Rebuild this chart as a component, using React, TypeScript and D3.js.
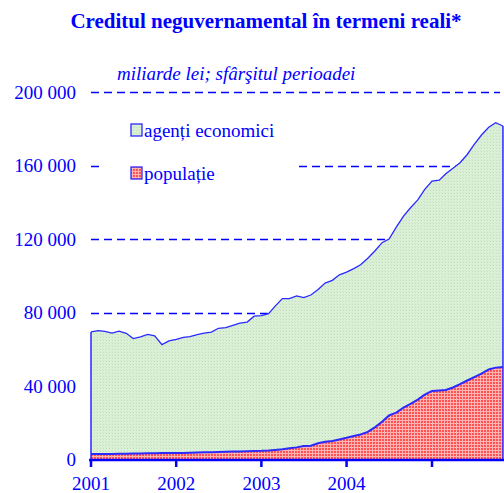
import React from "react";
import * as d3 from "d3";

const START_YEAR = 2001;
const START_MONTH = 0;

// agenți economici (miliarde lei), monthly from Jan 2001
const agenti = [
  66400, 67100, 66700, 65800, 66700, 65600, 62600, 63400, 64700, 63900, 59000, 60900,
  61800, 62900, 63200, 64200, 64900, 65300, 67300, 67600, 68700, 69800, 70300, 73400,
  73600, 74500, 78300, 82000, 81500, 82400, 80800, 82000, 83700, 86300, 87400, 89600,
  90200, 91100, 92400, 94500, 96000, 97500, 96000, 101000, 104200, 106700, 108700, 111700,
  114200, 114400, 117700, 119300, 120500, 123000, 126700, 129900, 131800, 133300, 131100,
];

// populație (miliarde lei), monthly from Jan 2001
const populatie = [
  3000, 3000, 3000, 3000, 3100, 3100, 3200, 3300, 3400, 3400, 3500, 3600,
  3600, 3600, 3700, 3800, 3900, 4000, 4100, 4200, 4300, 4400, 4500, 4600,
  4700, 4900, 5200, 5600, 6100, 6600, 7300, 7500, 8800, 9700, 10100, 10900,
  11800, 12800, 13600, 15000, 17500, 20500, 24000, 25500, 28300, 30300, 32600, 35300,
  37300, 37600, 37800, 39200, 41000, 43000, 44800, 46700, 49000, 50000, 50400,
];

const yTicks = [0, 40000, 80000, 120000, 160000, 200000];
const gridTicks = [80000, 120000, 160000, 200000];
const xTickYears = [2001, 2002, 2003, 2004, 2005];
const xLabelYears = [2001, 2002, 2003, 2004];

const title = "Creditul neguvernamental în termeni reali*";
const subtitle = "miliarde lei; sfârşitul perioadei";
const seriesNames = ["agenți economici", "populație"];

const BLUE = "#0000ff";
const LINE = "#2a2aff";
const FONT = "'Liberation Serif', 'Times New Roman', serif";

export default function App() {
  const W = 504;
  const H = 493;

  const months = agenti.map((_, i) => new Date(START_YEAR, START_MONTH + i, 1));
  const data = months.map((d, i) => ({ date: d, agenti: agenti[i], populatie: populatie[i] }));

  const x = d3
    .scaleTime()
    .domain([new Date(2001, 0, 1), new Date(2005, 0, 1)])
    .range([91, 432]);
  const y = d3.scaleLinear().domain([0, 200000]).range([459.5, 92]);

  const stack = d3.stack<any>().keys(["populatie", "agenti"]);
  const series = stack(data);

  const area = d3
    .area<any>()
    .x((d: any) => x(d.data.date))
    .y0((d: any) => y(d[0]))
    .y1((d: any) => y(d[1]));

  const topLine = d3
    .line<any>()
    .x((d: any) => x(d.data.date))
    .y((d: any) => y(d[1]));

  const popS = series[0];
  const agS = series[1];
  const lastX = x(months[months.length - 1]);

  const fmt = (v: number) => d3.format(",")(v).replace(/,/g, " ");

  return (
    <svg
      width={W}
      height={H}
      style={{ position: "fixed", left: 0, top: 0, background: "#fff" }}
    >
      <defs>
        <pattern id="greenPat" width="3" height="3" patternUnits="userSpaceOnUse">
          <rect width="3" height="3" fill="#dcefd7" />
          <rect x="1" y="1" width="1" height="1" fill="#bfdeba" />
          <rect x="0" y="0" width="1" height="1" fill="#cfe7cb" />
        </pattern>
        <pattern id="redPat" width="3" height="3" patternUnits="userSpaceOnUse">
          <rect width="3" height="3" fill="#ff5252" />
          <rect x="0" y="0" width="3" height="1" fill="#ffb4b4" />
          <rect x="0" y="0" width="1" height="3" fill="#ffb4b4" />
        </pattern>
      </defs>

      {/* title */}
      <text
        x={266}
        y={28}
        textAnchor="middle"
        fontFamily={FONT}
        fontWeight="bold"
        fontSize={21}
        fill={BLUE}
      >
        {title}
      </text>
      <text
        x={117}
        y={80}
        fontFamily={FONT}
        fontStyle="italic"
        fontSize={19}
        fill={BLUE}
      >
        {subtitle}
      </text>

      {/* grid lines */}
      {gridTicks.map((t) => (
        <line
          key={"g" + t}
          x1={91}
          x2={500}
          y1={Math.round(y(t)) + 0.5}
          y2={Math.round(y(t)) + 0.5}
          stroke={BLUE}
          strokeWidth={1.3}
          strokeDasharray="8,5"
        />
      ))}

      {/* areas */}
      <path d={area(agS) || ""} fill="url(#greenPat)" />
      <path d={area(popS) || ""} fill="url(#redPat)" />
      <path d={topLine(agS) || ""} fill="none" stroke={LINE} strokeWidth={1.3} />
      <path d={topLine(popS) || ""} fill="none" stroke={LINE} strokeWidth={2} />
      <line x1={x(months[0])} x2={x(months[0])} y1={y(0)} y2={y(agS[0][1])} stroke={LINE} strokeWidth={1.5} />
      <line x1={lastX} x2={lastX} y1={y(0)} y2={y(agS[agS.length - 1][1])} stroke={LINE} strokeWidth={1.5} />

      {/* y tick labels */}
      {yTicks.map((t) => (
        <text
          key={"yl" + t}
          x={76}
          y={y(t) + 6.5}
          textAnchor="end"
          fontFamily={FONT}
          fontSize={19}
          fill={BLUE}
        >
          {fmt(t)}
        </text>
      ))}

      {/* x axis */}
      <line x1={89} x2={504} y1={460} y2={460} stroke={BLUE} strokeWidth={2.5} />
      {xTickYears.map((yr) => (
        <line
          key={"xt" + yr}
          x1={x(new Date(yr, 0, 1))}
          x2={x(new Date(yr, 0, 1))}
          y1={459}
          y2={467}
          stroke={BLUE}
          strokeWidth={2.5}
        />
      ))}
      {xLabelYears.map((yr) => (
        <text
          key={"xl" + yr}
          x={x(new Date(yr, 0, 1))}
          y={490}
          textAnchor="middle"
          fontFamily={FONT}
          fontSize={19}
          fill={BLUE}
        >
          {yr}
        </text>
      ))}

      {/* legend */}
      <rect x={104} y={110} width={194} height={80} fill="#fff" />
      <rect x={131} y={124} width={11} height={12} fill="url(#greenPat)" stroke={LINE} strokeWidth={1.3} />
      <text x={144} y={137} fontFamily={FONT} fontSize={19} fill={BLUE}>
        {seriesNames[0]}
      </text>
      <rect x={131} y={167} width={11} height={12} fill="url(#redPat)" stroke={LINE} strokeWidth={1.3} />
      <text x={144} y={180} fontFamily={FONT} fontSize={19} fill={BLUE}>
        {seriesNames[1]}
      </text>
    </svg>
  );
}
